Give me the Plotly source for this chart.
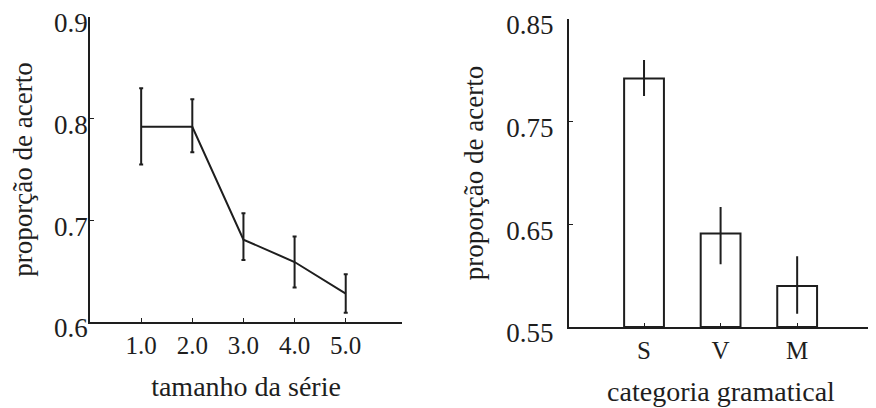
import plotly.graph_objects as go

# Left panel: series size
serie_x = [1.0, 2.0, 3.0, 4.0, 5.0]
serie_labels = ["1.0", "2.0", "3.0", "4.0", "5.0"]
serie_y = [0.792, 0.792, 0.681, 0.659, 0.628]
serie_err_plus = [0.038, 0.027, 0.026, 0.025, 0.019]
serie_err_minus = [0.037, 0.025, 0.020, 0.025, 0.019]

# Right panel: grammatical category
cat_names = ["S", "V", "M"]
cat_y = [0.792, 0.641, 0.590]
cat_err_plus = [0.017, 0.025, 0.028]
cat_err_minus = [0.016, 0.029, 0.026]

left_yticks = [0.6, 0.7, 0.8, 0.9]
left_yticklabels = ["0.6", "0.7", "0.8", "0.9"]
right_yticks = [0.55, 0.65, 0.75, 0.85]
right_yticklabels = ["0.55", "0.65", "0.75", "0.85"]

FONT = "Liberation Serif"
INK = "#1e1e1e"
fig = go.Figure()

fig.add_trace(go.Scatter(
    x=serie_x, y=serie_y, mode="lines",
    line=dict(color=INK, width=2),
    error_y=dict(type="data", symmetric=False, array=serie_err_plus,
                 arrayminus=serie_err_minus, color=INK, thickness=2, width=2),
    xaxis="x", yaxis="y", showlegend=False,
))

fig.add_trace(go.Bar(
    x=[0, 1, 2], y=[v - 0.55 for v in cat_y], base=0.55, width=0.52,
    marker=dict(color="white", line=dict(color=INK, width=2)),
    error_y=dict(type="data", symmetric=False, array=cat_err_plus,
                 arrayminus=cat_err_minus, color=INK, thickness=2, width=1),
    xaxis="x2", yaxis="y2", showlegend=False,
))

axis_common = dict(showline=True, linecolor=INK, linewidth=2, showgrid=False,
                   zeroline=False, ticks="inside", ticklen=4, tickcolor=INK,
                   tickwidth=1, automargin=False, ticklabeloverflow="allow")
xtick_font = dict(family=FONT, size=25, color=INK)
ytick_font = dict(family=FONT, size=27, color=INK)
xtitle_font = dict(family=FONT, size=28, color=INK)
ytitle_font = dict(family=FONT, size=27, color=INK)

# the page body adds an 8px offset; the figure is sized to fit the window
fig.update_layout(
    width=868, height=400,
    margin=dict(l=0, r=0, t=0, b=0),
    paper_bgcolor="white", plot_bgcolor="white",
    font=dict(family=FONT, color=INK),
    xaxis=dict(domain=[0.0945, 0.4539], range=[0.0, 6.1], anchor="y",
               tickvals=serie_x, ticktext=serie_labels, ticklabelstandoff=0,
               tickfont=xtick_font,
               title=dict(text="tamanho da série", font=xtitle_font, standoff=18),
               **axis_common),
    yaxis=dict(domain=[0.215, 0.9775], range=[0.6, 0.9], anchor="x",
               tickvals=left_yticks, ticktext=left_yticklabels, ticklabelstandoff=-5,
               ticklabelshift=6, tickfont=ytick_font,
               title=dict(text="proporção de acerto", font=ytitle_font, standoff=18),
               **axis_common),
    xaxis2=dict(domain=[0.6463, 0.9965], range=[-0.98, 2.99], anchor="y2",
                tickvals=[0, 1, 2], ticktext=cat_names, ticklabelstandoff=0,
                tickfont=xtick_font,
                title=dict(text="categoria gramatical", font=xtitle_font, standoff=18),
                **axis_common),
    yaxis2=dict(domain=[0.2025, 0.9725], range=[0.55, 0.85], anchor="x2",
                tickvals=right_yticks, ticktext=right_yticklabels, ticklabelstandoff=8,
                ticklabelshift=6, tickfont=ytick_font,
                title=dict(text="proporção de acerto", font=ytitle_font, standoff=15),
                **axis_common),
)

fig.write_html("out.html")
